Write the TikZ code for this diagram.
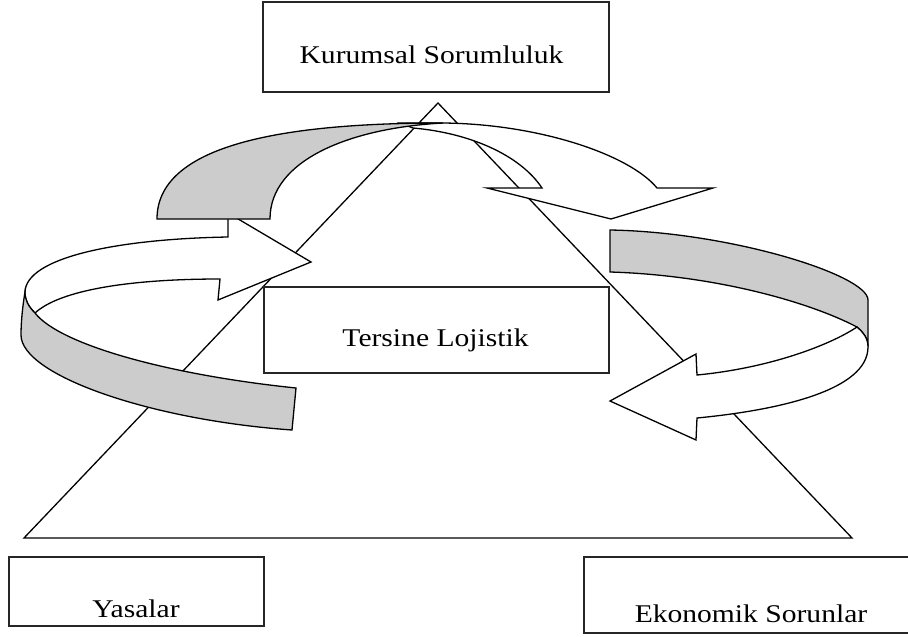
\documentclass[tikz,border=0pt]{standalone}
\usepackage{fontspec}
\setmainfont{Liberation Serif}
\usepackage{graphicx}
\begin{document}
\begin{tikzpicture}[x=1pt,y=-1pt,
  frame/.style={draw=black!85, line width=1.4pt, fill=white, inner sep=0pt},
  lbl/.style={anchor=base, inner sep=0pt, font=\fontsize{25.5}{30}\selectfont},
  backband/.style={draw=black, line width=1.3pt, fill=black!20, line join=miter},
  frontband/.style={draw=black, line width=1.3pt, fill=white, line join=miter},
  edge/.style={draw=black, line width=1.3pt, line join=miter}]
\useasboundingbox (0,0) rectangle (908,637);

% the big triangle
\coordinate (apex) at (438,103);
\coordinate (bl) at (24,538);
\coordinate (br) at (852,538);
\draw[edge] (apex) -- (bl) -- (br) -- cycle;

% boxes
\node[frame, minimum width=346pt, minimum height=90pt] (kurumsal) at (436,47) {};
\node[frame, minimum width=345pt, minimum height=86pt] (tersine) at (436.5,330) {};
\node[frame, minimum width=255pt, minimum height=69pt] (yasalar) at (136.5,591.5) {};
\node[frame, minimum width=346pt, minimum height=76pt] (ekonomik) at (757,595) {};

% box labels
\node[lbl] (kurumsalText) at (431.5,63) {\scalebox{1.16}[1]{Kurumsal Sorumluluk}};
\node[lbl] (tersineText) at (435.5,346) {\scalebox{1.16}[1]{Tersine Lojistik}};
\node[lbl] (yasalarText) at (136,617) {\scalebox{1.16}[1]{Yasalar}};
\node[lbl] (ekonomikText) at (751,622) {\scalebox{1.16}[1]{Ekonomik Sorunlar}};

% left ribbon: white arrow part
\draw[frontband] (25,292) .. controls (26,258) and (115,239) .. (228,237)
  -- (228,213) -- (311,262) -- (218,300) -- (220,279)
  .. controls (130,279) and (60,290) .. (35,313)
  .. controls (28,306) and (25,300) .. cycle;
% left ribbon: grey back part
\draw[backband] (25,292) .. controls (22,310) and (21,325) .. (21,335)
  .. controls (21,375) and (150,420) .. (292,430)
  -- (296,388)
  .. controls (170,375) and (60,345) .. (35,313)
  .. controls (28,306) and (25,300) .. cycle;

% right ribbon: grey back part
\draw[backband] (610,230) .. controls (730,232) and (868,275) .. (868,300)
  -- (868,347)
  .. controls (868,338) and (863,332) .. (857,327)
  .. controls (805,300) and (710,275) .. (610,272) -- cycle;
% right ribbon: white arrow part
\draw[frontband] (868,347) .. controls (868,390) and (780,410) .. (697,418)
  -- (696,440) -- (610,401) -- (696,354) -- (697,375)
  .. controls (770,368) and (830,345) .. (857,327)
  .. controls (863,332) and (868,338) .. cycle;

% top ribbon: white arrow part
\draw[frontband] (400,123) .. controls (420,123) and (430,123) .. (443,123)
  .. controls (540,124) and (630,155) .. (657,188)
  -- (713,188) -- (611,219) -- (487,188) -- (542,188)
  .. controls (520,155) and (470,133) .. (413,128) -- cycle;
% top ribbon: grey back part
\draw[backband] (157,219) .. controls (157,140) and (300,123) .. (443,123)
  .. controls (350,128) and (270,160) .. (270,219) -- cycle;
\end{tikzpicture}
\end{document}
